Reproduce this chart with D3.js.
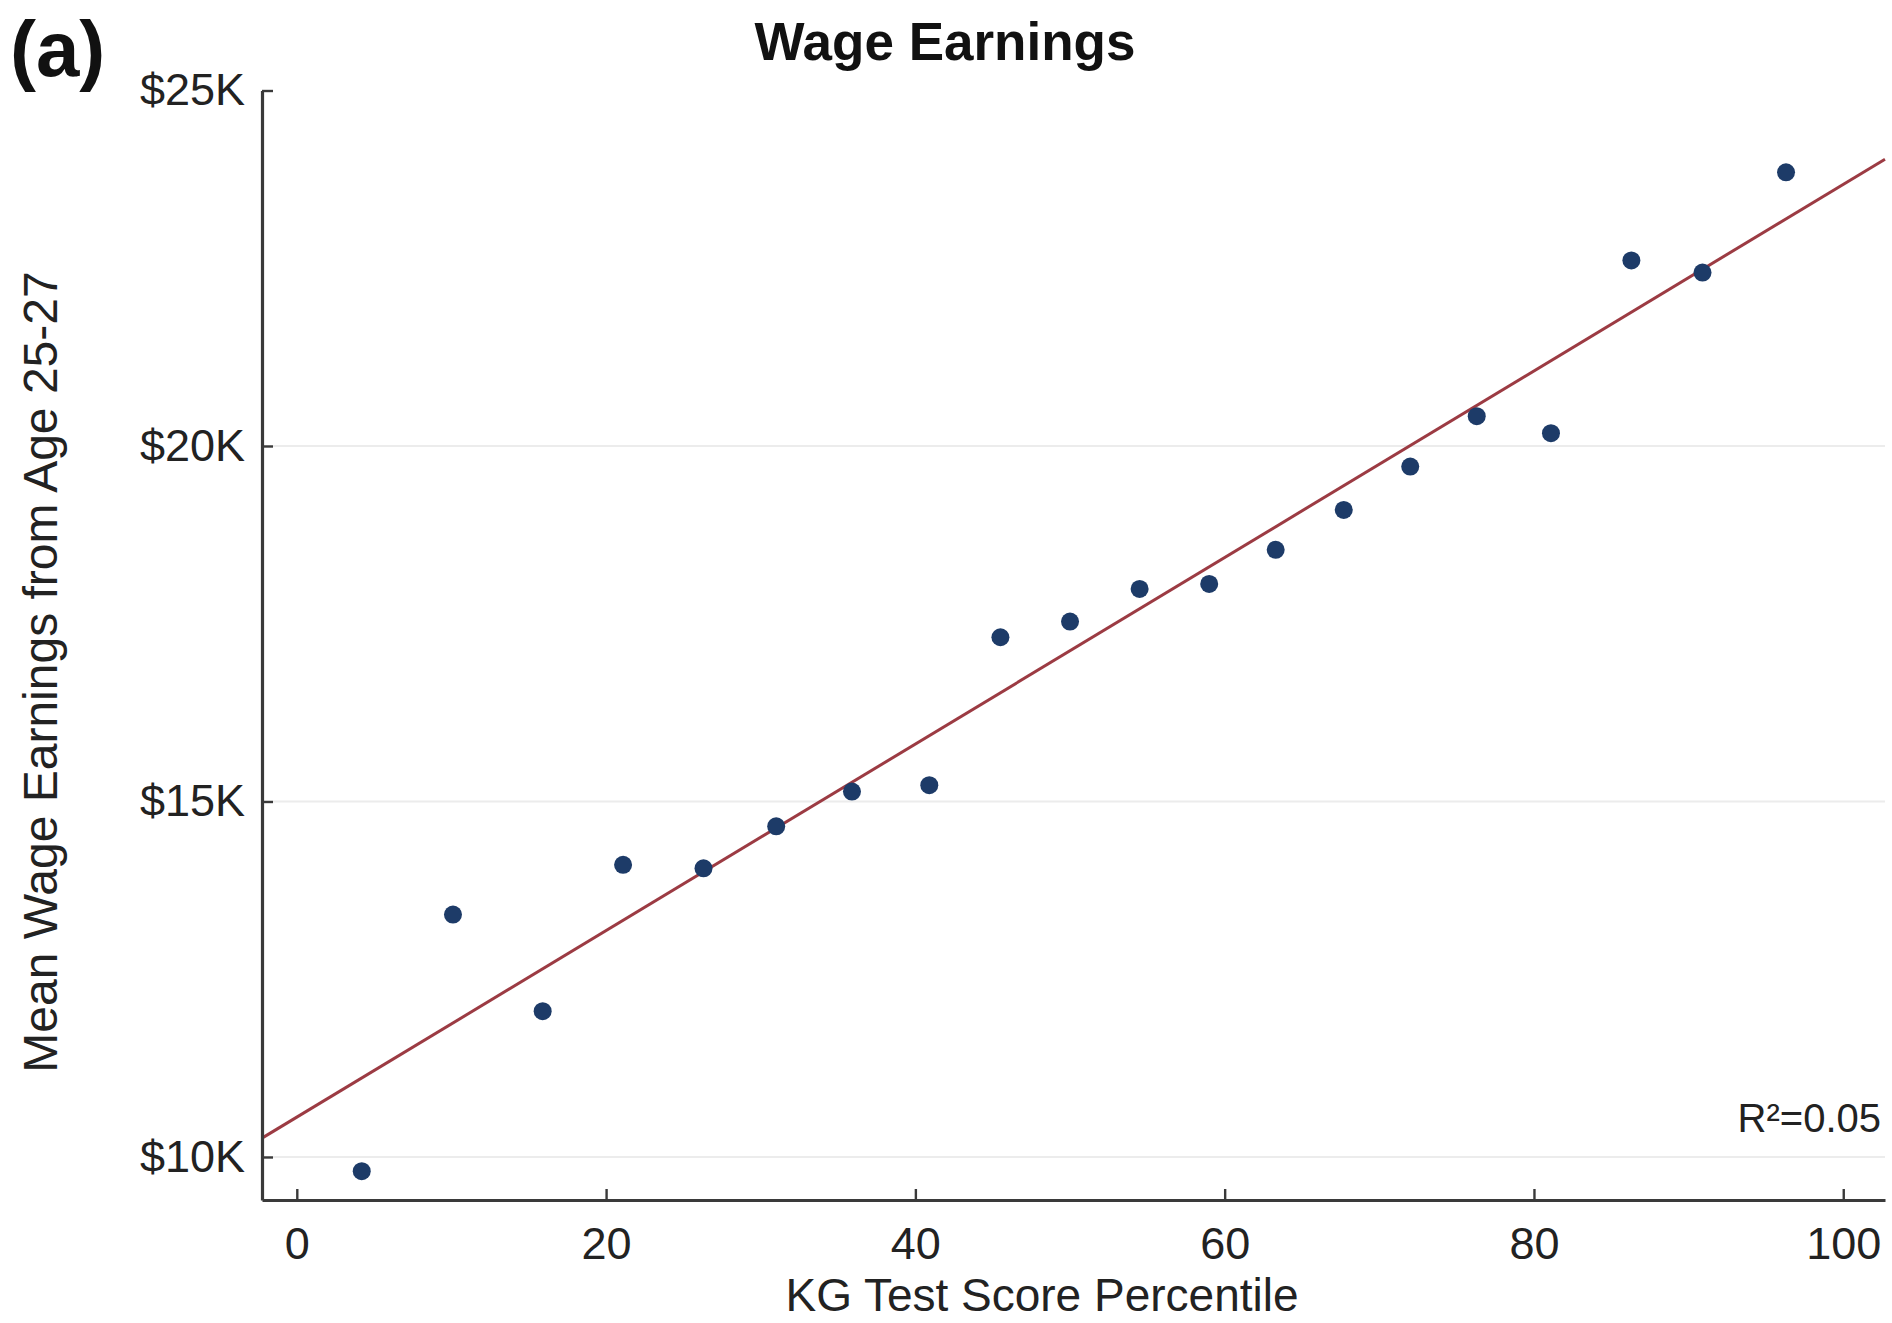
<!DOCTYPE html>
<html>
<head>
<meta charset="utf-8">
<script src="https://cdn.jsdelivr.net/npm/d3@7"></script>
<style>
  body { margin: 0; background: #fff; }
  text { font-family: "Liberation Sans", Arial, sans-serif; }
</style>
</head>
<body>
<svg id="chart"></svg>
<script>
// data
const percentile = [4.2, 10.1, 15.9, 21.1, 26.3, 31.0, 35.9, 40.9, 45.5, 50.0,
                    54.5, 59.0, 63.3, 67.7, 72.0, 76.3, 81.1, 86.3, 90.9, 96.3]
const earningsK = [9.80, 13.41, 12.05, 14.11, 14.06, 14.65, 15.14, 15.23, 17.31, 17.53,
                   17.99, 18.06, 18.54, 19.10, 19.71, 20.42, 20.18, 22.61, 22.44, 23.85]
const xTicks = [0, 20, 40, 60, 80, 100]
const yTicks = [10, 15, 20, 25]
const yTickLabels = ["$10K", "$15K", "$20K", "$25K"]
const fitIntercept = 10.56
const fitSlope = 0.1312

const width = 1892
const height = 1323

const svg = d3.select("#chart").attr("width", width).attr("height", height)

const x_scale = d3.scaleLinear().domain([-2.25, 102.7]).range([262, 1885])
const y_scale = d3.scaleLinear().domain([9.395, 25]).range([1200, 90.5])

// grid lines
svg.selectAll("line.grid")
    .data(yTicks.filter(d => d < 25))
    .join("line")
    .attr("class", "grid")
    .attr("x1", x_scale.range()[0]).attr("x2", x_scale.range()[1])
    .attr("y1", d => y_scale(d)).attr("y2", d => y_scale(d))
    .attr("stroke", "#ececec").attr("stroke-width", 2)

// fit line
const fit = d3.line().x(d => x_scale(d)).y(d => y_scale(fitIntercept + fitSlope * d))
svg.append("path")
    .datum(x_scale.domain())
    .attr("d", fit)
    .attr("fill", "none")
    .attr("stroke", "#9c3b43")
    .attr("stroke-width", 3)

// points
svg.selectAll("circle.pt")
    .data(percentile.map((p, i) => ({ p: p, v: earningsK[i] })))
    .join("circle")
    .attr("class", "pt")
    .attr("cx", d => x_scale(d.p))
    .attr("cy", d => y_scale(d.v))
    .attr("r", 9)
    .attr("fill", "#1d3b68")

// axes
const xAxis = d3.axisBottom(x_scale).tickValues(xTicks).tickSize(-11).tickSizeOuter(0).tickPadding(27)
const gx = svg.append("g").attr("transform", "translate(0," + y_scale.range()[0] + ")").call(xAxis)

const yAxis = d3.axisLeft(y_scale).tickValues(yTicks)
    .tickFormat((d, i) => yTickLabels[i]).tickSize(-11).tickSizeOuter(0).tickPadding(17)
const gy = svg.append("g").attr("transform", "translate(" + x_scale.range()[0] + ",0)").call(yAxis)

;[gx, gy].forEach(g => {
    g.select(".domain").attr("stroke", "#3a3a3a").attr("stroke-width", 3.2)
    g.selectAll(".tick line").attr("stroke", "#3a3a3a").attr("stroke-width", 2.4)
    g.selectAll(".tick text").attr("fill", "#222").style("font-size", "45px")
        .style("font-family", "'Liberation Sans', Arial, sans-serif")
})

// labels
svg.append("text")
    .attr("x", 945).attr("y", 60)
    .attr("text-anchor", "middle")
    .style("font-size", "53px").style("font-weight", "bold")
    .attr("fill", "#111")
    .text("Wage Earnings")

svg.append("text")
    .attr("x", 10).attr("y", 76)
    .style("font-size", "78px").style("font-weight", "bold")
    .attr("fill", "#111")
    .text("(a)")

svg.append("text")
    .attr("x", 1042).attr("y", 1311)
    .attr("text-anchor", "middle")
    .style("font-size", "46px")
    .attr("fill", "#222")
    .text("KG Test Score Percentile")

svg.append("text")
    .attr("transform", "translate(57,672) rotate(-90)")
    .attr("text-anchor", "middle")
    .style("font-size", "48px")
    .attr("fill", "#222")
    .text("Mean Wage Earnings from Age 25-27")

svg.append("text")
    .attr("x", 1881).attr("y", 1132)
    .attr("text-anchor", "end")
    .style("font-size", "40px")
    .attr("fill", "#222")
    .text("R²=0.05")
</script>
</body>
</html>
